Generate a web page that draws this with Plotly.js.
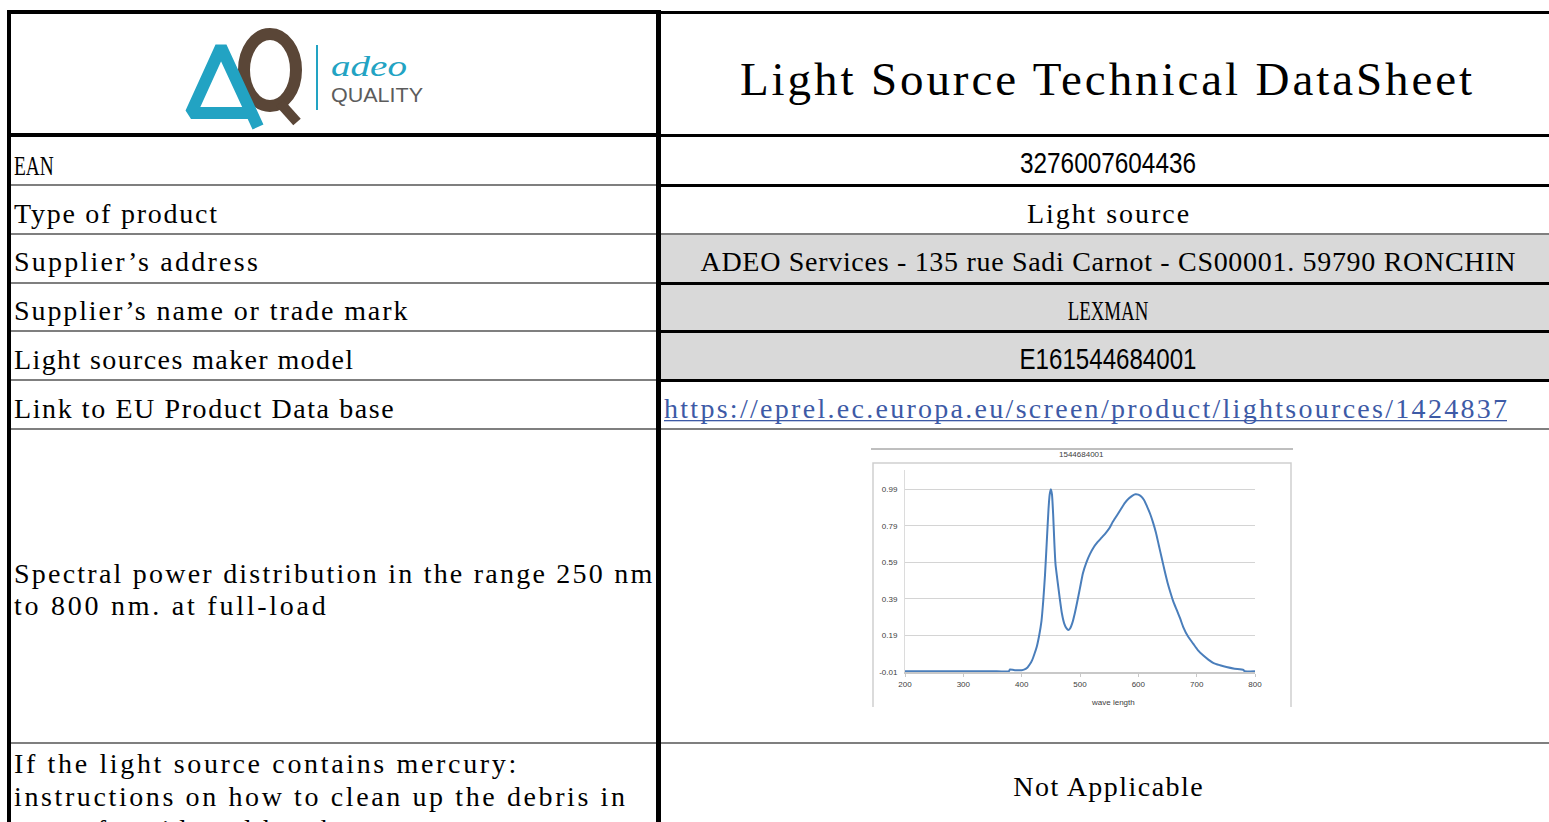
<!DOCTYPE html>
<html><head><meta charset="utf-8">
<script src="https://cdn.plot.ly/plotly-3.0.1.min.js"></script>
<style>
html,body{margin:0;padding:0;background:#fff;width:1549px;height:822px;overflow:hidden}
#page{position:absolute;left:0;top:0}
#chart{position:absolute;left:862px;top:440px;width:440px;height:282px}
</style></head><body>
<svg id="page" width="1549" height="822" xmlns="http://www.w3.org/2000/svg"></svg>
<div id="chart"></div>
<script>
// ---------------- data ----------------
const sheetTitle = "Light Source Technical DataSheet";
const rowLabels = ["EAN", "Type of product", "Supplier\u2019s address", "Supplier\u2019s name or trade mark",
                   "Light sources maker model", "Link to EU Product Data base"];
const rowValues = ["3276007604436", "Light source",
                   "ADEO Services - 135 rue Sadi Carnot - CS00001. 59790 RONCHIN",
                   "LEXMAN", "E161544684001",
                   "https://eprel.ec.europa.eu/screen/product/lightsources/1424837"];
const spectrumLabel = ["Spectral power distribution in the range 250 nm", "to 800 nm. at full-load"];
const mercuryLabel = ["If the light source contains mercury:", "instructions on how to clean up the debris in", "case of accidental breakage"];
const mercuryValue = "Not Applicable";

const chartTitle = "1544684001";
const xAxisTitle = "wave length";
const wavelength = [200,250,300,350,378,380,385,390,400,405,410,414,418,422,426,430,434,437,440,443,446,448,450,452,454,456,458,461,465,469,473,477,480,483,487,491,495,500,505,511,517,523,530,537,544,550,556,563,570,577,584,590,595,600,605,610,615,620,625,630,635,640,645,650,655,660,666,672,677,685,694,702,711,720,729,740,751,765,780,782,800];
const intensity  = [-0.006,-0.006,-0.006,-0.006,-0.006,0.004,0.002,0.0,0.0,0.004,0.015,0.032,0.055,0.09,0.13,0.19,0.27,0.38,0.52,0.70,0.88,0.96,0.99,0.96,0.85,0.70,0.58,0.50,0.40,0.31,0.255,0.228,0.22,0.228,0.26,0.31,0.37,0.45,0.53,0.59,0.635,0.67,0.70,0.725,0.75,0.775,0.81,0.845,0.88,0.915,0.94,0.955,0.962,0.96,0.95,0.93,0.895,0.857,0.81,0.755,0.685,0.615,0.545,0.48,0.425,0.375,0.328,0.28,0.236,0.185,0.145,0.11,0.081,0.058,0.039,0.027,0.017,0.008,0.002,-0.006,-0.006];
const xTickVals = [200,300,400,500,600,700,800];
const yTickVals = [-0.01,0.19,0.39,0.59,0.79,0.99];
const yTickText = ["-0.01","0.19","0.39","0.59","0.79","0.99"];

// ---------------- sheet drawing ----------------
const NS = "http://www.w3.org/2000/svg";
const svg = document.getElementById('page');
function el(tag, attrs, parent){
  const e = document.createElementNS(NS, tag);
  for (const k in attrs) e.setAttribute(k, attrs[k]);
  (parent || svg).appendChild(e);
  return e;
}
function rect(x,y,w,h,fill){ return el('rect',{x:x,y:y,width:w,height:h,fill:fill}); }
const fitList = [];
function txt(str, x, y, target, opts){
  opts = opts || {};
  const t = el('text', {x:x, y:y, 'font-family': opts.family || "'Liberation Serif', 'DejaVu Serif', serif",
    'font-size': opts.size || 28, fill: opts.color || '#000', 'text-anchor': opts.anchor || 'start',
    'font-weight': opts.weight || 'normal', 'font-style': opts.style || 'normal'});
  t.textContent = str;
  if (target) fitList.push([t, target]);
  return t;
}
const ADV = 13.6, GRAY = '#7f7f7f', FILL = '#d9d9d9';
const LX0 = 7, DIV = 656, RX1 = 1549, VC = 1108;

// grey value cells
rect(661, 235, RX1-661, 47, FILL);
rect(661, 284, RX1-661, 46, FILL);
rect(661, 333, RX1-661, 46, FILL);

// horizontal rules [y, h, colour]
const leftRules  = [[10,4,'#000'],[133,4,'#000'],[184,2,GRAY],[233,2,GRAY],[282,2,GRAY],[330,2,GRAY],[379,2,GRAY],[428,2,GRAY],[742,2,GRAY]];
const rightRules = [[11,3,'#000'],[134,3,'#000'],[184,3,'#000'],[233,2,GRAY],[282,3,'#000'],[330,3,'#000'],[379,3,'#000'],[428,2,GRAY],[742,2,GRAY]];
leftRules.forEach(r => rect(LX0, r[0], DIV-LX0+2, r[1], r[2]));
rightRules.forEach(r => rect(DIV, r[0], RX1-DIV, r[1], r[2]));
// vertical rules
rect(LX0, 10, 4, 812, '#000');
rect(DIV, 10, 5, 812, '#000');

// logo
const CYAN = '#22a3c3', BROWN = '#5a4637';
el('ellipse', {cx:270, cy:70, rx:26, ry:36, fill:'none', stroke:BROWN, 'stroke-width':12});
el('path', {d:'M280,103 L297,122', stroke:BROWN, 'stroke-width':10, 'stroke-linecap':'butt', fill:'none'});
el('path', {d:'M258,127 L221,47 L191,113 L249,113', stroke:CYAN, 'stroke-width':12, 'stroke-linejoin':'miter', 'stroke-miterlimit':1.6, fill:'none'});
el('rect', {x:316, y:45, width:2, height:65, fill:CYAN});
const adeo = txt('adeo', 331, 76, 0, {family:"'Liberation Serif', serif", size:29, style:'italic', color:CYAN});
adeo.setAttribute('textLength', 76); adeo.setAttribute('lengthAdjust','spacingAndGlyphs');
const q = txt('QUALITY', 331, 102, 0, {family:"'Liberation Sans', sans-serif", size:20, color:'#5c5c5c'});
q.setAttribute('textLength', 92); q.setAttribute('lengthAdjust','spacingAndGlyphs');

// title
txt(sheetTitle, 1106, 95, 732, {size:47, anchor:'middle'});

// labels & values
const labelBase = [175, 223, 271, 320, 369, 418];
rowLabels.forEach((s,i) => txt(s, 14, labelBase[i], s.length*ADV-1));
const SANS = "'Liberation Sans Narrow', 'Liberation Sans', Arial, sans-serif";
txt(rowValues[0], VC, 173, 176, {family:SANS, size:29, anchor:'middle'});
txt(rowValues[1], VC, 223, rowValues[1].length*ADV-1, {anchor:'middle'});
txt(rowValues[2], VC, 271, rowValues[2].length*ADV-1, {anchor:'middle'});
txt(rowValues[3], VC, 320, rowValues[3].length*ADV-1, {anchor:'middle'});
txt(rowValues[4], VC, 369, 177, {family:SANS, size:29, anchor:'middle'});
txt(rowValues[5], 664, 418, 843, {color:'#3d5aa6'});
rect(664, 420, 843, 1.3, '#3d5aa6');

spectrumLabel.forEach((s,i) => txt(s, 14, 583 + i*32, s.length*ADV-1));
mercuryLabel.forEach((s,i) => txt(s, 14, 773 + i*33, s.length*ADV-1));
txt(mercuryValue, VC, 796, mercuryValue.length*ADV-1, {anchor:'middle'});

function doFit(){
  fitList.forEach(([t, target]) => {
    const nat = t.getComputedTextLength();
    t.setAttribute('textLength', target);
    t.setAttribute('lengthAdjust', nat < target ? 'spacing' : 'spacingAndGlyphs');
  });
}
doFit();

// ---------------- spectrum chart ----------------
const px = v => (v - 905) / 350;   // page px -> paper x
const py = v => (672 - v) / 202;   // page px -> paper y
const CF = "'Liberation Sans', Arial, sans-serif";
const TC = '#404040';
Plotly.newPlot('chart', [{
  x: wavelength, y: intensity, type: 'scatter', mode: 'lines',
  line: {color: '#4a7ebb', width: 2, shape: 'spline', smoothing: 0.5},
  hoverinfo: 'skip'
}], {
  width: 440, height: 282,
  margin: {l: 43, r: 47, t: 30, b: 50, pad: 0},
  paper_bgcolor: 'rgba(0,0,0,0)', plot_bgcolor: 'rgba(0,0,0,0)',
  showlegend: false,
  font: {family: CF, size: 8, color: TC},
  xaxis: {range: [200, 800], tickmode: 'array', tickvals: xTickVals, showgrid: false, zeroline: false,
          showline: true, linecolor: '#c8c8c8', linewidth: 2, ticks: 'outside', ticklen: 3,
          tickcolor: '#c8c8c8', tickwidth: 1, tickfont: {family: CF, size: 8, color: TC}, fixedrange: true},
  yaxis: {range: [-0.01, 1.095], tickmode: 'array', tickvals: yTickVals, ticktext: yTickText,
          showgrid: true, gridcolor: '#d4d4d4', gridwidth: 1, zeroline: false,
          showline: true, linecolor: '#dcdcdc', linewidth: 1, ticks: 'outside', ticklen: 5,
          tickcolor: 'rgba(0,0,0,0)', tickfont: {family: CF, size: 8, color: TC}, fixedrange: true},
  shapes: [
    {type: 'line', xref: 'paper', yref: 'paper', x0: px(871), x1: px(1293), y0: py(449), y1: py(449),
     line: {color: '#7f7f7f', width: 1}},
    {type: 'path', xref: 'paper', yref: 'paper',
     path: `M ${px(873)} ${py(707)} L ${px(873)} ${py(463)} L ${px(1291)} ${py(463)} L ${px(1291)} ${py(707)}`,
     line: {color: '#cfcfcf', width: 1.5}}
  ],
  annotations: [
    {text: chartTitle, xref: 'paper', yref: 'paper', x: px(1081), y: py(455), xanchor: 'center', yanchor: 'middle',
     showarrow: false, font: {family: CF, size: 8, color: TC}},
    {text: xAxisTitle, xref: 'paper', yref: 'paper', x: px(1113), y: py(702), xanchor: 'center', yanchor: 'middle',
     showarrow: false, font: {family: CF, size: 8, color: TC}}
  ]
}, {staticPlot: true, displayModeBar: false});
</script>
</body></html>
